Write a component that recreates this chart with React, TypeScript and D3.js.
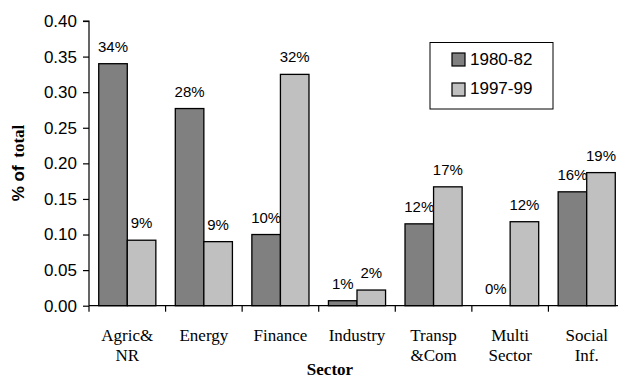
import React, { useRef, useEffect } from 'react';
import * as d3 from 'd3';

const sectors = [['Agric&', 'NR'], ['Energy'], ['Finance'], ['Industry'], ['Transp', '&Com'], ['Multi', 'Sector'], ['Social', 'Inf.']];
const series80 = [0.34, 0.277, 0.1, 0.007, 0.115, 0, 0.16];
const series97 = [0.092, 0.09, 0.325, 0.022, 0.167, 0.118, 0.187];
const labels80 = ['34%', '28%', '10%', '1%', '12%', '0%', '16%'];
const labels97 = ['9%', '9%', '32%', '2%', '17%', '12%', '19%'];
const seriesNames = ['1980-82', '1997-99'];
const yTicks = [0, 0.05, 0.1, 0.15, 0.2, 0.25, 0.3, 0.35, 0.4];

const colors = ['#808080', '#c0c0c0'];

const App: React.FC = () => {
  const svgRef = useRef<SVGSVGElement | null>(null);

  useEffect(() => {
    if (!svgRef.current) return;
    const svg = d3.select(svgRef.current);
    svg.selectAll('*').remove();

    const left = 89, right = 625, top = 21, bottom = 305.7;

    const x = d3.scaleBand<number>()
      .domain(d3.range(sectors.length))
      .range([left, right])
      .paddingInner(0)
      .paddingOuter(0);
    const inner = d3.scaleBand<number>()
      .domain([0, 1])
      .range([x.bandwidth() * 0.127, x.bandwidth() * 0.873]);
    const y = d3.scaleLinear().domain([0, 0.4]).range([bottom, top]);

    // bars
    [series80, series97].forEach((s, si) => {
      svg.append('g')
        .selectAll('rect')
        .data(s)
        .enter()
        .append('rect')
        .attr('x', (d, i) => x(i)! + inner(si)!)
        .attr('y', d => y(d))
        .attr('width', inner.bandwidth())
        .attr('height', d => bottom - y(d))
        .attr('fill', colors[si])
        .attr('stroke', '#000')
        .attr('stroke-width', 1.3);

      const labs = si === 0 ? labels80 : labels97;
      svg.append('g')
        .selectAll('text')
        .data(s)
        .enter()
        .append('text')
        .attr('x', (d, i) => x(i)! + inner(si)! + inner.bandwidth() / 2)
        .attr('y', d => y(d) - 12)
        .attr('text-anchor', 'middle')
        .attr('font-family', 'Arial, "Liberation Sans", sans-serif')
        .attr('font-size', 15)
        .attr('fill', '#000')
        .text((d, i) => labs[i]);
    });

    // y axis
    const yAxis = svg.append('g')
      .attr('transform', `translate(${left},0)`)
      .call(d3.axisLeft(y).tickValues(yTicks).tickFormat(d3.format('.2f')).tickSize(6).tickPadding(6));
    yAxis.selectAll('path, line').attr('stroke', '#000').attr('stroke-width', 1.2);
    yAxis.selectAll('text')
      .attr('font-family', 'Arial, "Liberation Sans", sans-serif')
      .attr('font-size', 17)
      .attr('fill', '#000');
    yAxis.select('path').attr('d', `M-6,${top}H0V${bottom}`);

    // x axis
    const xAxis = svg.append('g').attr('transform', `translate(0,${bottom})`);
    xAxis.append('line')
      .attr('x1', left).attr('x2', right)
      .attr('stroke', '#000').attr('stroke-width', 1.2);
    xAxis.selectAll('line.tick')
      .data(d3.range(sectors.length + 1))
      .enter()
      .append('line')
      .attr('class', 'tick')
      .attr('x1', i => left + i * x.step())
      .attr('x2', i => left + i * x.step())
      .attr('y1', 0).attr('y2', 6)
      .attr('stroke', '#000').attr('stroke-width', 1.2);

    const catText = xAxis.selectAll('text.cat')
      .data(sectors)
      .enter()
      .append('text')
      .attr('class', 'cat')
      .attr('text-anchor', 'middle')
      .attr('font-family', '"Times New Roman", "Liberation Serif", serif')
      .attr('font-size', 17)
      .attr('fill', '#000');
    catText.each(function (lines, i) {
      const t = d3.select(this);
      lines.forEach((ln, j) => {
        t.append('tspan')
          .attr('x', x(i)! + x.bandwidth() / 2)
          .attr('y', 35 + j * 20)
          .text(ln);
      });
    });

    svg.append('text')
      .attr('x', 330)
      .attr('y', 375)
      .attr('text-anchor', 'middle')
      .attr('font-family', '"Times New Roman", "Liberation Serif", serif')
      .attr('font-weight', 'bold')
      .attr('font-size', 17)
      .attr('fill', '#000')
      .text('Sector');

    // y title
    const yt = svg.append('text')
      .attr('transform', 'translate(24,163) rotate(-90)')
      .attr('text-anchor', 'middle')
      .attr('font-weight', 'bold')
      .attr('font-size', 17)
      .attr('fill', '#000');
    yt.append('tspan').attr('font-family', 'Arial, "Liberation Sans", sans-serif').text('% of ');
    yt.append('tspan').attr('dx', 3).attr('font-family', '"Times New Roman", "Liberation Serif", serif').text('total');

    // legend
    const lg = svg.append('g');
    lg.append('rect')
      .attr('x', 430).attr('y', 42.5).attr('width', 123).attr('height', 66.5)
      .attr('fill', '#fff').attr('stroke', '#000').attr('stroke-width', 1);
    seriesNames.forEach((nm, i) => {
      lg.append('rect')
        .attr('x', 452).attr('y', 53 + i * 30).attr('width', 13).attr('height', 13)
        .attr('fill', colors[i]).attr('stroke', '#000').attr('stroke-width', 1.2);
      lg.append('text')
        .attr('x', 470).attr('y', 64.5 + i * 29)
        .attr('font-family', 'Arial, "Liberation Sans", sans-serif')
        .attr('font-size', 17)
        .attr('fill', '#000')
        .text(nm);
    });
  }, []);

  return (
    <svg ref={svgRef} width={618} height={379} style={{ position: 'absolute', left: 0, top: 0, background: '#fff' }}></svg>
  );
};

export default App;
